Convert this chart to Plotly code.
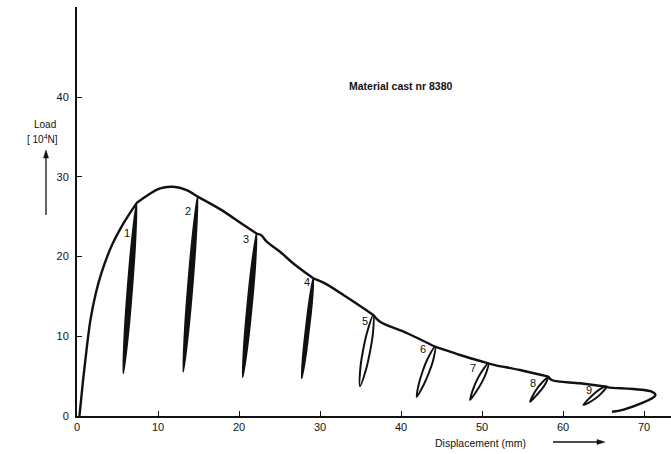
import plotly.graph_objects as go

# Monotonic load-displacement envelope (displacement in mm, load in 10^4 N).
# Points that coincide with a cycle's top are corners where an unloading cycle starts.
envelope_disp = [0.3, 0.75, 1.20, 1.65, 2.30, 3.00, 4.30, 5.70, 7.35,
                 10.25, 11.89, 13.54, 14.88,
                 17.65, 20.30, 22.16,
                 22.72, 23.42, 25.06, 26.71, 29.17,
                 30.61, 33.70, 36.58,
                 37.41, 40.70, 44.20,
                 44.83, 47.28, 50.78,
                 51.60, 54.69, 58.19,
                 58.61, 62.10, 65.40,
                 65.60, 70.95, 71.40, 67.49, 66.05]
envelope_load = [0.0, 4.50, 8.50, 12.00, 15.30, 17.90, 21.40, 24.10, 26.71,
                 28.55, 28.75, 28.34, 27.52,
                 25.95, 24.16, 22.88,
                 22.70, 21.86, 20.60, 19.13, 17.27,
                 16.64, 14.63, 12.66,
                 11.82, 10.41, 8.69,
                 8.48, 7.65, 6.61,
                 6.39, 5.77, 4.93,
                 4.51, 4.10, 3.67,
                 3.60, 3.05, 2.60, 0.79, 0.54]

# Unloading/reloading cycles 1-9
cycle_labels = ["1", "2", "3", "4", "5", "6", "7", "8", "9"]
cycle_top_disp = [7.35, 14.88, 22.16, 29.17, 36.58, 44.20, 50.78, 58.19, 65.40]
cycle_top_load = [26.71, 27.52, 22.88, 17.27, 12.66, 8.69, 6.61, 4.93, 3.67]
cycle_bottom_disp = [5.72, 13.12, 20.46, 27.74, 34.94, 41.94, 48.52, 55.93, 62.51]
cycle_bottom_load = [5.35, 5.55, 4.89, 4.73, 3.76, 2.42, 2.01, 1.79, 1.38]

unload_disp = [[6.72, 6.26, 5.90], [14.22, 13.73, 13.34], [21.51, 21.04, 20.66],
               [28.64, 28.26, 27.93], [35.80, 35.31, 34.98], [43.26, 42.65, 42.19],
               [49.89, 49.28, 48.83], [57.36, 56.74, 56.28], [64.67, 63.95, 63.23]]
unload_load = [[21.37, 16.03, 10.70], [22.03, 16.54, 11.05], [18.38, 13.89, 9.39],
               [14.13, 11.00, 7.86], [10.44, 8.21, 5.99], [7.12, 5.55, 3.99],
               [5.45, 4.31, 3.16], [4.14, 3.36, 2.58], [3.42, 2.89, 2.21]]
reload_disp = [[6.35, 6.80, 7.16], [13.78, 14.27, 14.66], [21.11, 21.58, 21.96],
               [28.27, 28.65, 28.99], [35.72, 36.20, 36.54], [42.83, 43.49, 44.00],
               [49.35, 50.02, 50.53], [56.70, 57.38, 57.88], [63.23, 63.95, 64.67]]
reload_load = [[10.70, 16.03, 21.37], [11.05, 16.54, 22.03], [9.39, 13.89, 18.38],
               [7.86, 11.00, 14.13], [5.99, 8.21, 10.44], [3.99, 5.55, 7.12],
               [3.16, 4.31, 5.45], [2.58, 3.36, 4.14], [1.70, 2.16, 2.78]]

# Label positions for the cycle numbers
label_disp = [6.21, 13.74, 20.86, 28.36, 35.56, 42.68, 48.89, 56.33, 63.25]
label_load = [22.98, 25.74, 22.16, 16.77, 11.91, 8.36, 6.08, 4.10, 3.26]

x_ticks = [0, 10, 20, 30, 40, 50, 60, 70]
y_ticks = [0, 10, 20, 30, 40]

FONT = "Liberation Sans"
INK = "#111111"

fig = go.Figure()

# Envelope: break into smooth pieces at each cycle top so the corners stay sharp
top_set = set(zip(cycle_top_disp, cycle_top_load))
seg_x, seg_y = [], []
for xv, yv in zip(envelope_disp, envelope_load):
    seg_x.append(xv)
    seg_y.append(yv)
    if (xv, yv) in top_set:
        seg_x += [None, xv]
        seg_y += [None, yv]

fig.add_trace(go.Scatter(
    x=seg_x, y=seg_y, mode="lines",
    line=dict(color=INK, width=2.4, shape="spline"),
    connectgaps=False, hoverinfo="skip", showlegend=False,
))

# Cycles: closed unload/reload paths; the early, narrow ones print solid
for i in range(len(cycle_labels)):
    cx = ([cycle_top_disp[i]] + unload_disp[i] + [cycle_bottom_disp[i]]
          + reload_disp[i] + [cycle_top_disp[i]])
    cy = ([cycle_top_load[i]] + unload_load[i] + [cycle_bottom_load[i]]
          + reload_load[i] + [cycle_top_load[i]])
    solid = i < 4
    fig.add_trace(go.Scatter(
        x=cx, y=cy, mode="lines",
        line=dict(color=INK, width=2.0, shape="spline"),
        fill="toself" if solid else "none",
        fillcolor=INK,
        hoverinfo="skip", showlegend=False,
    ))

annotations = []
for lab, xv, yv in zip(cycle_labels, label_disp, label_load):
    annotations.append(dict(
        x=xv, y=yv, xref="x", yref="y", text=lab, showarrow=False,
        font=dict(family=FONT, size=11, color=INK),
        xanchor="center", yanchor="middle",
    ))

annotations += [
    dict(x=39.88, y=41.38, xref="x", yref="y", text="<b>Material cast nr 8380</b>",
         showarrow=False, font=dict(family=FONT, size=10.5, color=INK),
         xanchor="center", yanchor="middle"),
    dict(x=-0.054, y=0.7115, xref="paper", yref="paper", text="Load",
         showarrow=False, font=dict(family=FONT, size=10, color=INK),
         xanchor="center", yanchor="middle"),
    dict(x=-0.058, y=0.677, xref="paper", yref="paper", text="[ 10<sup>4</sup>N]",
         showarrow=False, font=dict(family=FONT, size=10, color=INK),
         xanchor="center", yanchor="middle"),
    dict(x=0.680, y=-0.066, xref="paper", yref="paper", text="Displacement (mm)",
         showarrow=False, font=dict(family=FONT, size=10.5, color=INK),
         xanchor="center", yanchor="middle"),
]

# Direction arrows next to the axis titles (paper coordinates)
arrow_line = dict(color=INK, width=1.3)
shapes = [
    # Load arrow, pointing up
    dict(type="line", xref="paper", yref="paper",
         x0=-0.0522, x1=-0.0522, y0=0.4914, y1=0.636, line=arrow_line),
    dict(type="path", xref="paper", yref="paper",
         path="M -0.0522,0.6504 L -0.0564,0.6308 L -0.0480,0.6308 Z",
         fillcolor=INK, line=dict(color=INK, width=0.5)),
    # Displacement arrow, pointing right
    dict(type="line", xref="paper", yref="paper",
         x0=0.8013, x1=0.880, y0=-0.0636, y1=-0.0636, line=arrow_line),
    dict(type="path", xref="paper", yref="paper",
         path="M 0.8889,-0.0636 L 0.8754,-0.0575 L 0.8754,-0.0697 Z",
         fillcolor=INK, line=dict(color=INK, width=0.5)),
]

fig.update_layout(
    width=671, height=454,
    margin=dict(l=77, r=0, t=7, b=38),
    paper_bgcolor="white", plot_bgcolor="white",
    annotations=annotations,
    shapes=shapes,
    showlegend=False,
)

fig.update_xaxes(
    range=[0, 73.33], tickvals=x_ticks, ticktext=[str(v) for v in x_ticks],
    showline=True, linecolor=INK, linewidth=2,
    ticks="inside", ticklen=5, tickwidth=1.3, tickcolor=INK,
    showgrid=False, zeroline=False,
    tickfont=dict(family=FONT, size=11, color=INK),
)
fig.update_yaxes(
    range=[0, 51.3], tickvals=y_ticks, ticktext=[str(v) for v in y_ticks],
    showline=True, linecolor=INK, linewidth=2,
    ticks="inside", ticklen=5, tickwidth=1.3, tickcolor=INK,
    showgrid=False, zeroline=False, ticklabelstandoff=4,
    tickfont=dict(family=FONT, size=11, color=INK),
)

fig.write_html("out.html")
